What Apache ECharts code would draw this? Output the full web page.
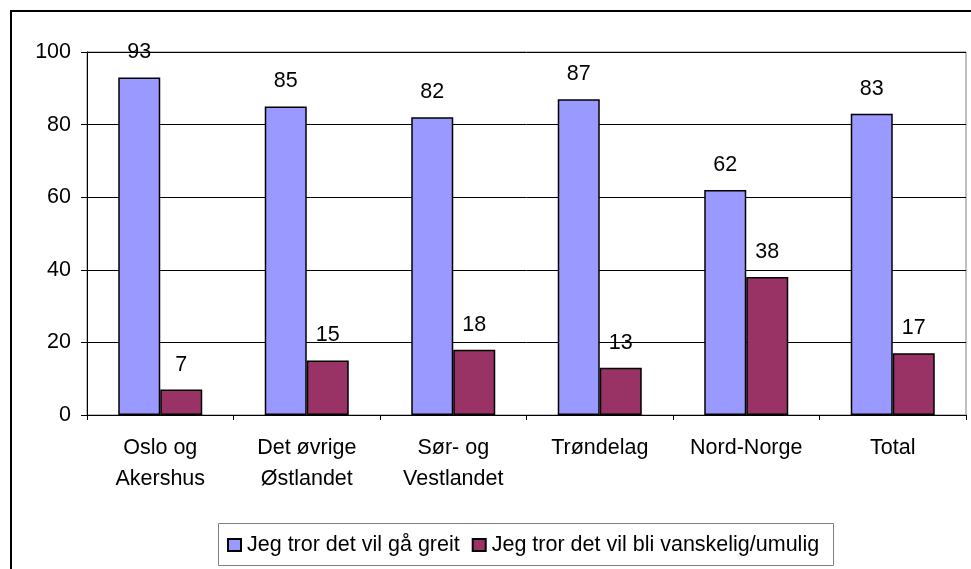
<!DOCTYPE html>
<html>
<head>
<meta charset="utf-8">
<script src="https://cdn.jsdelivr.net/npm/echarts@6/dist/echarts.min.js"></script>
<style>html,body{margin:0;padding:0;background:#fff;}#c{width:971px;height:569px;}</style>
</head>
<body>
<div id="c"></div>
<script>
const categories = ['Oslo og\nAkershus', 'Det øvrige\nØstlandet', 'Sør- og\nVestlandet', 'Trøndelag', 'Nord-Norge', 'Total'];
const seriesNames = ['Jeg tror det vil gå greit', 'Jeg tror det vil bli vanskelig/umulig'];
const greit = [93, 85, 82, 87, 62, 83];
const vanskelig = [7, 15, 18, 13, 38, 17];
const yTicks = [0, 20, 40, 60, 80, 100];

const FONT = '"Liberation Sans", Arial, sans-serif';
const FS = 21.5;
const chart = echarts.init(document.getElementById('c'), null, {renderer: 'canvas'});
const labelCfg = {show: true, position: 'top', distance: 14, color: '#000', fontFamily: FONT, fontSize: FS};
chart.setOption({
  animation: false,
  backgroundColor: '#fff',
  grid: {left: 87, right: 5, top: 52, bottom: 154, show: true, borderColor: '#808080', borderWidth: 1, backgroundColor: 'transparent'},
  graphic: [
    {type: 'rect', shape: {x: 11, y: 11, width: 1200, height: 1200}, style: {fill: 'none', stroke: '#000', lineWidth: 2}, z: 100, silent: true},
    {type: 'rect', shape: {x: 218.5, y: 523.5, width: 615, height: 42}, style: {fill: 'none', stroke: '#808080', lineWidth: 1}, z: 100, silent: true}
  ],
  legend: {
    left: 227, top: 534, padding: 0,
    itemWidth: 13, itemHeight: 12, itemGap: 12,
    icon: 'rect',
    textStyle: {fontFamily: FONT, fontSize: FS, color: '#000', padding: [0, 0, 0, 1]},
    data: seriesNames
  },
  xAxis: {
    type: 'category', data: categories,
    axisLine: {lineStyle: {color: '#000', width: 1}},
    axisTick: {show: true, length: 5, lineStyle: {color: '#000'}},
    axisLabel: {color: '#000', fontFamily: FONT, fontSize: FS, lineHeight: 31, margin: 18, interval: 0}
  },
  yAxis: {
    type: 'value', min: 0, max: 100, interval: 20,
    axisLine: {show: true, lineStyle: {color: '#000', width: 1}},
    axisTick: {show: true, length: 6, lineStyle: {color: '#000'}},
    axisLabel: {color: '#000', fontFamily: FONT, fontSize: FS, margin: 16,
      formatter: v => yTicks.includes(v) ? String(v) : ''},
    splitLine: {show: true, lineStyle: {color: '#000', width: 1}}
  },
  series: [
    {name: seriesNames[0], type: 'bar', data: greit, barWidth: 42, barGap: '0%',
     itemStyle: {color: '#9999FF', borderColor: '#000', borderWidth: 1.5}, label: labelCfg},
    {name: seriesNames[1], type: 'bar', data: vanskelig, barWidth: 42, barGap: '0%',
     itemStyle: {color: '#993366', borderColor: '#000', borderWidth: 1.5}, label: labelCfg}
  ]
});
</script>
</body>
</html>
